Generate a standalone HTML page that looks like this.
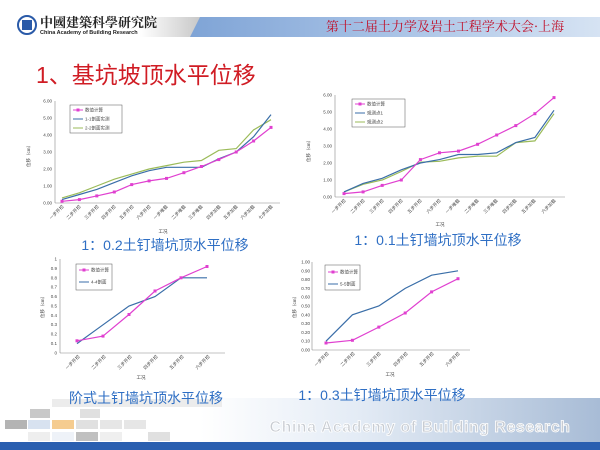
<!DOCTYPE html>
<html><head><meta charset="utf-8"><style>
html,body{margin:0;padding:0;background:#fff;}
svg{display:block;font-family:"Liberation Sans","Noto Sans CJK SC",sans-serif;}
</style></head><body>
<svg width="600" height="450" viewBox="0 0 600 450" xmlns="http://www.w3.org/2000/svg">
<defs>
<linearGradient id="hb" x1="0" x2="1"><stop offset="0" stop-color="#7fa4d6"/><stop offset="0.5" stop-color="#a9c3e6"/><stop offset="1" stop-color="#d6e3f3"/></linearGradient>
<linearGradient id="hg" x1="0" x2="1"><stop offset="0" stop-color="#fff"/><stop offset="1" stop-color="#c8c8c8"/></linearGradient>
<linearGradient id="fb" x1="0" x2="1"><stop offset="0" stop-color="#fff"/><stop offset="0.4" stop-color="#e3ebf5"/><stop offset="1" stop-color="#a8bcd6"/></linearGradient>
</defs>
<!-- header -->
<rect x="140" y="17" width="60" height="20" fill="url(#hg)"/>
<polygon points="200,17 600,17 600,37 190,37" fill="url(#hb)"/>
<circle cx="27" cy="25" r="9" fill="#fff" stroke="#2a5aa8" stroke-width="2"/>
<rect x="22" y="20" width="10" height="10" fill="#2a5aa8"/>
<text x="40" y="27" font-size="13" font-weight="bold" fill="#222" font-family="'Noto Serif CJK SC',serif">中國建築科學研究院</text>
<text x="40" y="34" font-size="5.5" font-weight="bold" fill="#222">China Academy of Building Research</text>
<text x="445" y="31" font-size="13" fill="#c0102a" text-anchor="middle" font-family="'Noto Serif CJK SC',serif">第十二届土力学及岩土工程学术大会·上海</text>
<text x="36" y="83" font-size="23" fill="#d01c24">1、基坑坡顶水平位移</text>
<!-- footer -->
<rect x="200" y="398" width="400" height="44" fill="url(#fb)"/>
<rect x="0" y="442" width="600" height="8" fill="#2a5fb0"/>
<g fill="#d6d6d6"><rect x="30" y="409" width="20" height="9" fill="#c8c8c8"/><rect x="80" y="409" width="20" height="9" fill="#e0e0e0"/><rect x="5" y="420" width="22" height="9" fill="#b4b4b4"/><rect x="28" y="420" width="22" height="9" fill="#d8e2f0"/><rect x="52" y="420" width="22" height="9" fill="#f5cc90"/><rect x="76" y="420" width="22" height="9" fill="#e0e0e0"/><rect x="100" y="420" width="22" height="9" fill="#e6e6e6"/><rect x="124" y="420" width="22" height="9" fill="#e6e6e6"/><rect x="28" y="432" width="22" height="9" fill="#eeeeee"/><rect x="52" y="432" width="22" height="9" fill="#eef2f8"/><rect x="76" y="432" width="22" height="9" fill="#c0c0c0"/><rect x="100" y="432" width="22" height="9" fill="#efefef"/><rect x="148" y="432" width="22" height="9" fill="#e0e0e0"/><rect x="52" y="399" width="170" height="8" fill="#ececec"/></g>
<text x="420" y="432" font-size="16" font-weight="bold" fill="#c8ccd2" stroke="#fff" stroke-width="0.8" text-anchor="middle" letter-spacing="0.5">China Academy of Building Research</text>

<g font-size="4.5" fill="#444">
<!-- chart1 -->
<line x1="55" y1="101" x2="55" y2="203" stroke="#888" stroke-width="0.6"/><line x1="55" y1="203" x2="280" y2="203" stroke="#888" stroke-width="0.6"/>
<g text-anchor="end"><text x="52" y="204.5">0.00</text><text x="52" y="187.5">1.00</text><text x="52" y="170.5">2.00</text><text x="52" y="153.5">3.00</text><text x="52" y="136.5">4.00</text><text x="52" y="119.5">5.00</text><text x="52" y="102.5">6.00</text></g>
<text x="30" y="155" transform="rotate(-90 30 155)" text-anchor="middle">位移（cm）</text>
<g text-anchor="end"><text transform="translate(64,207) rotate(-45)">一步开挖</text><text transform="translate(81,207) rotate(-45)">二步开挖</text><text transform="translate(99,207) rotate(-45)">三步开挖</text><text transform="translate(116,207) rotate(-45)">四步开挖</text><text transform="translate(134,207) rotate(-45)">五步开挖</text><text transform="translate(151,207) rotate(-45)">六步开挖</text><text transform="translate(168,207) rotate(-45)">一步堆载</text><text transform="translate(186,207) rotate(-45)">二步堆载</text><text transform="translate(203,207) rotate(-45)">三步堆载</text><text transform="translate(221,207) rotate(-45)">四步加载</text><text transform="translate(238,207) rotate(-45)">五步加载</text><text transform="translate(255,207) rotate(-45)">六步加载</text><text transform="translate(273,207) rotate(-45)">七步加载</text></g>
<text x="163" y="233" text-anchor="middle">工况</text>
<polyline fill="none" stroke="#9bbb59" stroke-width="1.2" points="62,197.9 79.4,192.8 96.8,186 114.3,179.2 131.7,174.1 149.1,169 166.5,165.6 183.9,162.2 201.4,160.5 218.8,150.3 236.2,148.6 253.6,129.9 271,119.7"/>
<polyline fill="none" stroke="#3a6ea8" stroke-width="1.2" points="62,199.6 79.4,194.5 96.8,189.4 114.3,182.6 131.7,175.8 149.1,170.7 166.5,167.3 183.9,167.3 201.4,167.3 218.8,158.8 236.2,152 253.6,136.7 271,114.6"/>
<polyline fill="none" stroke="#e040d0" stroke-width="1.2" points="62,201.3 79.4,199.6 96.8,195.9 114.3,192 131.7,184.6 149.1,180.9 166.5,178.4 183.9,172.7 201.4,166.5 218.8,159.6 236.2,152 253.6,141 271,127.4"/>
<g fill="#e040d0"><rect x="60.5" y="199.8" width="3" height="3"/><rect x="77.9" y="198.1" width="3" height="3"/><rect x="95.3" y="194.4" width="3" height="3"/><rect x="112.8" y="190.5" width="3" height="3"/><rect x="130.2" y="183.1" width="3" height="3"/><rect x="147.6" y="179.4" width="3" height="3"/><rect x="165" y="176.9" width="3" height="3"/><rect x="182.4" y="171.2" width="3" height="3"/><rect x="199.9" y="165" width="3" height="3"/><rect x="217.3" y="158.1" width="3" height="3"/><rect x="234.7" y="150.5" width="3" height="3"/><rect x="252.1" y="139.5" width="3" height="3"/><rect x="269.5" y="125.9" width="3" height="3"/></g>
<rect x="70" y="105" width="52" height="28" fill="#fff" stroke="#555" stroke-width="0.5"/>
<line x1="73" y1="110" x2="83" y2="110" stroke="#e040d0"/><rect x="76.5" y="108.5" width="3" height="3" fill="#e040d0"/><text x="85" y="111.5">数值计算</text>
<line x1="73" y1="119" x2="83" y2="119" stroke="#3a6ea8"/><text x="85" y="120.5">1-1剖面实测</text>
<line x1="73" y1="128" x2="83" y2="128" stroke="#9bbb59"/><text x="85" y="129.5">2-2剖面实测</text>

<!-- chart2 -->
<line x1="335" y1="95" x2="335" y2="197" stroke="#888" stroke-width="0.6"/><line x1="335" y1="197" x2="565" y2="197" stroke="#888" stroke-width="0.6"/>
<g text-anchor="end"><text x="332" y="198.5">0.00</text><text x="332" y="181.5">1.00</text><text x="332" y="164.5">2.00</text><text x="332" y="147.5">3.00</text><text x="332" y="130.5">4.00</text><text x="332" y="113.5">5.00</text><text x="332" y="96.5">6.00</text></g>
<text x="310" y="150" transform="rotate(-90 310 150)" text-anchor="middle">位移（cm）</text>
<g text-anchor="end"><text transform="translate(346,201) rotate(-45)">一步开挖</text><text transform="translate(365,201) rotate(-45)">二步开挖</text><text transform="translate(384,201) rotate(-45)">三步开挖</text><text transform="translate(403,201) rotate(-45)">四步开挖</text><text transform="translate(422,201) rotate(-45)">五步开挖</text><text transform="translate(441,201) rotate(-45)">六步开挖</text><text transform="translate(460,201) rotate(-45)">一步堆载</text><text transform="translate(479,201) rotate(-45)">二步堆载</text><text transform="translate(498,201) rotate(-45)">三步堆载</text><text transform="translate(517,201) rotate(-45)">四步加载</text><text transform="translate(536,201) rotate(-45)">五步加载</text><text transform="translate(556,201) rotate(-45)">六步加载</text></g>
<text x="440" y="226" text-anchor="middle">工况</text>
<polyline fill="none" stroke="#9bbb59" stroke-width="1.2" points="344,191.9 363.1,184.3 382.2,180 401.3,171.5 420.4,162.2 439.5,161.3 458.5,157.9 477.6,156.2 496.7,156.2 515.8,142.6 534.9,140.9 554,113.7"/>
<polyline fill="none" stroke="#3a6ea8" stroke-width="1.2" points="344,191.9 363.1,183.4 382.2,178.3 401.3,169.8 420.4,163 439.5,159.6 458.5,154.5 477.6,154.5 496.7,152.8 515.8,142.6 534.9,137.5 554,110.3"/>
<polyline fill="none" stroke="#e040d0" stroke-width="1.2" points="344,193.6 363.1,191.9 382.2,185.4 401.3,180 420.4,159.6 439.5,152.8 458.5,151.1 477.6,144.3 496.7,135 515.8,125.6 534.9,113.7 554,97.6"/>
<g fill="#e040d0"><rect x="342.5" y="192.1" width="3" height="3"/><rect x="361.6" y="190.4" width="3" height="3"/><rect x="380.7" y="183.9" width="3" height="3"/><rect x="399.8" y="178.5" width="3" height="3"/><rect x="418.9" y="158.1" width="3" height="3"/><rect x="438" y="151.3" width="3" height="3"/><rect x="457" y="149.6" width="3" height="3"/><rect x="476.1" y="142.8" width="3" height="3"/><rect x="495.2" y="133.5" width="3" height="3"/><rect x="514.3" y="124.1" width="3" height="3"/><rect x="533.4" y="112.2" width="3" height="3"/><rect x="552.5" y="96.1" width="3" height="3"/></g>
<rect x="352" y="99" width="53" height="28" fill="#fff" stroke="#555" stroke-width="0.5"/>
<line x1="355" y1="104" x2="365" y2="104" stroke="#e040d0"/><rect x="358.5" y="102.5" width="3" height="3" fill="#e040d0"/><text x="367" y="105.5">数值计算</text>
<line x1="355" y1="113" x2="365" y2="113" stroke="#3a6ea8"/><text x="367" y="114.5">观测点1</text>
<line x1="355" y1="122" x2="365" y2="122" stroke="#9bbb59"/><text x="367" y="123.5">观测点2</text>

<!-- chart3 -->
<line x1="60" y1="259" x2="60" y2="353" stroke="#888" stroke-width="0.6"/><line x1="60" y1="353" x2="225" y2="353" stroke="#888" stroke-width="0.6"/>
<g text-anchor="end"><text x="57" y="354.5">0</text><text x="57" y="345">0.1</text><text x="57" y="335.6">0.2</text><text x="57" y="326.2">0.3</text><text x="57" y="316.8">0.4</text><text x="57" y="307.5">0.5</text><text x="57" y="298">0.6</text><text x="57" y="288.7">0.7</text><text x="57" y="279.3">0.8</text><text x="57" y="269.9">0.9</text><text x="57" y="260.5">1</text></g>
<text x="44" y="306" transform="rotate(-90 44 306)" text-anchor="middle">位移（cm）</text>
<g text-anchor="end"><text transform="translate(80,357) rotate(-45)">一步开挖</text><text transform="translate(106,357) rotate(-45)">二步开挖</text><text transform="translate(132,357) rotate(-45)">三步开挖</text><text transform="translate(158,357) rotate(-45)">四步开挖</text><text transform="translate(184,357) rotate(-45)">五步开挖</text><text transform="translate(210,357) rotate(-45)">六步开挖</text></g>
<text x="141" y="379" text-anchor="middle">工况</text>
<polyline fill="none" stroke="#3a6ea8" stroke-width="1.2" points="77,343.6 103,324.8 129,306 155,296.6 181,277.8 207,277.8"/>
<polyline fill="none" stroke="#e040d0" stroke-width="1.2" points="77,340.8 103,336.1 129,314.5 155,291 181,277.8 207,266.5"/>
<g fill="#e040d0"><rect x="75.5" y="339.3" width="3" height="3"/><rect x="101.5" y="334.6" width="3" height="3"/><rect x="127.5" y="313" width="3" height="3"/><rect x="153.5" y="289.5" width="3" height="3"/><rect x="179.5" y="276.3" width="3" height="3"/><rect x="205.5" y="265" width="3" height="3"/></g>
<rect x="76" y="264" width="36" height="26" fill="#fff" stroke="#555" stroke-width="0.5"/>
<line x1="79" y1="270" x2="89" y2="270" stroke="#e040d0"/><rect x="82.5" y="268.5" width="3" height="3" fill="#e040d0"/><text x="91" y="271.5">数值计算</text>
<line x1="79" y1="282" x2="89" y2="282" stroke="#3a6ea8"/><text x="91" y="283.5">4-4剖面</text>

<!-- chart4 -->
<line x1="312" y1="262" x2="312" y2="350" stroke="#888" stroke-width="0.6"/><line x1="312" y1="350" x2="470" y2="350" stroke="#888" stroke-width="0.6"/>
<g text-anchor="end"><text x="310" y="351.5">0.00</text><text x="310" y="342.7">0.10</text><text x="310" y="333.9">0.20</text><text x="310" y="325.1">0.30</text><text x="310" y="316.3">0.40</text><text x="310" y="307.5">0.50</text><text x="310" y="298.7">0.60</text><text x="310" y="289.9">0.70</text><text x="310" y="281.1">0.80</text><text x="310" y="272.3">0.90</text><text x="310" y="263.5">1.00</text></g>
<text x="296" y="306" transform="rotate(-90 296 306)" text-anchor="middle">位移（cm）</text>
<g text-anchor="end"><text transform="translate(329,354) rotate(-45)">一步开挖</text><text transform="translate(355,354) rotate(-45)">二步开挖</text><text transform="translate(381,354) rotate(-45)">三步开挖</text><text transform="translate(408,354) rotate(-45)">四步开挖</text><text transform="translate(434,354) rotate(-45)">五步开挖</text><text transform="translate(460,354) rotate(-45)">六步开挖</text></g>
<text x="390" y="376" text-anchor="middle">工况</text>
<polyline fill="none" stroke="#3a6ea8" stroke-width="1.2" points="326,341.2 352.4,314.8 378.8,306 405.2,288.4 431.6,275.2 458,270.8"/>
<polyline fill="none" stroke="#e040d0" stroke-width="1.2" points="326,343 352.4,340.3 378.8,327.1 405.2,313 431.6,291.9 458,278.7"/>
<g fill="#e040d0"><rect x="324.5" y="341.5" width="3" height="3"/><rect x="350.9" y="338.8" width="3" height="3"/><rect x="377.3" y="325.6" width="3" height="3"/><rect x="403.7" y="311.5" width="3" height="3"/><rect x="430.1" y="290.4" width="3" height="3"/><rect x="456.5" y="277.2" width="3" height="3"/></g>
<rect x="325" y="265" width="35" height="25" fill="#fff" stroke="#555" stroke-width="0.5"/>
<line x1="328" y1="272" x2="338" y2="272" stroke="#e040d0"/><rect x="331.5" y="270.5" width="3" height="3" fill="#e040d0"/><text x="340" y="273.5">数值计算</text>
<line x1="328" y1="284" x2="338" y2="284" stroke="#3a6ea8"/><text x="340" y="285.5">5-5剖面</text>
</g>

<g font-size="14" fill="#2f6fc4" text-anchor="middle">
<text x="165" y="250">1：0.2土钉墙坑顶水平位移</text>
<text x="438" y="245">1：0.1土钉墙坑顶水平位移</text>
<text x="146" y="403">阶式土钉墙坑顶水平位移</text>
<text x="382" y="400">1：0.3土钉墙坑顶水平位移</text>
</g>
</svg>
</body></html>
